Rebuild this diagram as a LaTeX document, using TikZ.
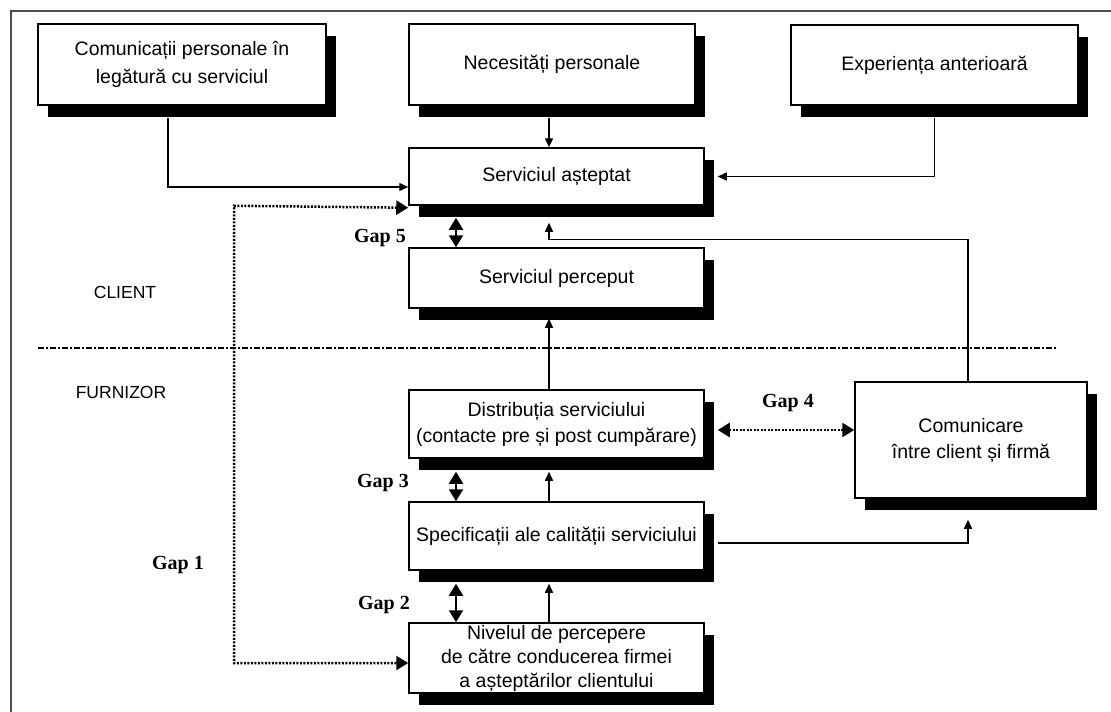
\documentclass[tikz,border=0pt]{standalone}
\usepackage{fontspec}
\setmainfont{Liberation Sans}
\newfontfamily\gapfont{Liberation Serif}
\usetikzlibrary{arrows.meta,shadows,calc,positioning}
\tikzset{box/.style={draw,line width=1.5pt,fill=white,align=center,inner sep=0pt,
            font=\fontsize{19.5}{26}\selectfont,
            drop shadow={shadow xshift=10pt,shadow yshift=-12pt,opacity=1,fill=black}},
         column/.style={box,minimum width=295pt},
         conn/.style={line width=1.4pt,-{Triangle[length=9pt,width=8pt]}},
         gap/.style={line width=2.2pt,{Triangle[length=12pt,width=14pt]}-{Triangle[length=12pt,width=14pt]}},
         gapdot/.style={gap,line width=2.5pt,dash pattern=on 2pt off 1.5pt},
         gaplabel/.style={font=\gapfont\bfseries\fontsize{20}{24}\selectfont},
         side/.style={font=\fontsize{17.5}{21}\selectfont},
         sep/.style={line width=1.4pt,dash pattern=on 6pt off 2pt on 2pt off 2pt}}

\begin{document}
\begin{tikzpicture}[x=1pt,y=-1pt]
\clip (0,0) rectangle (1111,712);
\fill[white] (0,0) rectangle (1111,712);
\draw[line width=2pt,black!70] (11,11) rectangle (1140,740);

\node[box,minimum width=288pt,minimum height=81pt,font=\fontsize{19.5}{28}\selectfont] (pers) at (182,64.5) {Comunicații personale în\\legătură cu serviciul};
\node[box,minimum width=286pt,minimum height=81pt] (nec) at (552,64.5) {Necesități personale};
\node[box,minimum width=287pt,minimum height=80pt] (exp) at (934.5,65) {Experiența anterioară};
\node[column,minimum height=57pt] (asteptat) at (556.5,176.5) {Serviciul așteptat};
\node[column,minimum height=60pt] (perceput) at (556.5,278) {Serviciul perceput};
\node[column,minimum height=68pt] (distrib) at (556.5,424) {Distribuția serviciului\\(contacte pre și post cumpărare)};
\node[box,minimum width=232pt,minimum height=116pt] (comun) at (971,440) {Comunicare\\între client și firmă};
\node[column,minimum height=68pt] (specif) at (556.5,536) {Specificații ale calității serviciului};
\node[column,minimum height=70pt,font=\fontsize{19.5}{24}\selectfont] (nivel) at (556.5,658) {Nivelul de percepere\\de către conducerea firmei\\a așteptărilor clientului};

\node[side] (client) at (125,292) {CLIENT};
\node[side] (furnizor) at (121,392) {FURNIZOR};
\node[gaplabel] (gap5) at (380,238) {Gap 5};
\node[gaplabel] (gap4) at (788,403) {Gap 4};
\node[gaplabel] (gap3) at (383,483) {Gap 3};
\node[gaplabel] (gap2) at (384,605) {Gap 2};
\node[gaplabel] (gap1) at (178,565) {Gap 1};

\draw[sep] (37.5,348) -- (1057,348);

\coordinate (axis) at (549,0);
\coordinate (gapx) at (456,0);
\coordinate (g1) at (234,0);
\coordinate (g4) at ($(distrib.east)+(13,6)$);
\coordinate (n1) at ($(nivel.west)+(0,5)$);

\draw[conn] ($(pers.south)+(-14,12)$) |- ($(asteptat.west)+(0,10.5)$);
\draw[conn] ($(axis |- nec.south)+(0,12)$) -- (axis |- asteptat.north);
\draw[conn] ($(exp.south)+(0,12)$) |- ($(asteptat.east)+(13,0)$);
\draw[conn] (axis |- distrib.north) -- ($(axis |- perceput.south)+(0,10)$);
\draw[conn] (axis |- specif.north) -- ($(axis |- distrib.south)+(0,13)$);
\draw[conn] (axis |- nivel.north) -- ($(axis |- specif.south)+(0,13)$);
\draw[conn] ($(specif.east)+(13,7)$) -| ($(comun.south)+(-3,21)$);
\draw[conn] ($(comun.north)+(-3,0)$) |- ($(axis |- perceput.north)+(0,-8)$) -- ($(axis |- asteptat.south)+(0,17)$);

\draw[gap] ($(gapx |- asteptat.south)+(0,12)$) -- (gapx |- perceput.north);
\draw[gap] ($(gapx |- distrib.south)+(0,13)$) -- (gapx |- specif.north);
\draw[gap] ($(gapx |- specif.south)+(0,13)$) -- (gapx |- nivel.north);
\draw[gapdot] (g4) -- (g4 -| comun.west);
\draw[gapdot] ($(asteptat.south west)+(0,2)$) -- (g1 |- asteptat.south) -- (g1 |- n1) -- (n1);
\end{tikzpicture}
\end{document}
